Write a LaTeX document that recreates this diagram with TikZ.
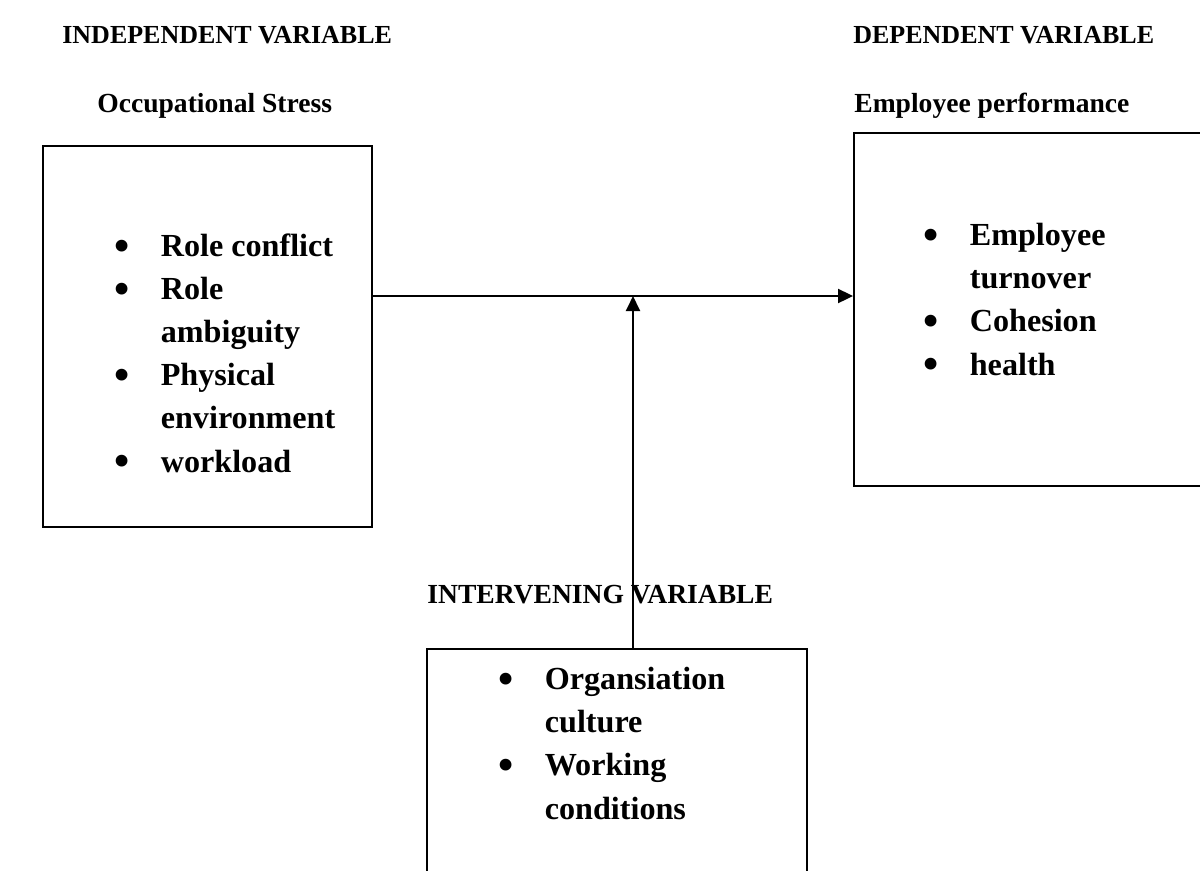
\documentclass[tikz,border=0pt]{standalone}
\usepackage{fontspec}
\usepackage{graphicx}
\setmainfont{Liberation Serif}
\usetikzlibrary{arrows.meta, positioning}

\newcommand{\bitem}{\makebox[0.92cm][l]{\raisebox{-2pt}{\scalebox{1.35}{\textbullet}}}}
\newcommand{\bcont}{\hspace*{0.92cm}}

\begin{document}
\begin{tikzpicture}[x=0.02cm, y=-0.02cm,
  frame/.style={draw, line width=1.1pt, inner sep=0},
  lbl/.style={font=\fontsize{14.8}{24.5}\selectfont\bfseries, inner sep=0, anchor=base west},
  sublbl/.style={lbl, font=\fontsize{15.7}{24.5}\selectfont\bfseries},
  lst/.style={lbl, font=\fontsize{18.3}{24.5}\selectfont\bfseries, align=left},
  arr/.style={-{Triangle[length=0.3cm, width=0.28cm]}, line width=1.1pt}]
 \useasboundingbox (0,0) rectangle (1200,870);
 % boxes
 \node[frame, minimum width=6.58cm, minimum height=7.62cm] (indep) at (207.5,336.5){};
 \node[frame, minimum width=6.96cm, minimum height=7.06cm] (dep) at (1028,309.5){};
 \node[frame, minimum width=7.6cm, minimum height=4.52cm] (interv) at (617,762){};
 % headings
 \node[lbl] (indephead) at (62,43){INDEPENDENT VARIABLE};
 \node[lbl] (dephead) at (853,43){DEPENDENT VARIABLE};
 \node[sublbl] (indepname) at (97,112){Occupational Stress};
 \node[sublbl] (depname) at (854,112){Employee performance};
 \node[sublbl] (intervhead) at (427,603){INTERVENING VARIABLE};
 % lists
 \node[lst] (indeplist) at (114.5,472){\bitem Role conflict\\ \bitem Role\\ \bcont ambiguity\\
   \bitem Physical\\ \bcont environment\\ \bitem workload};
 \node[lst] (deplist) at (923.5,375){\bitem Employee\\ \bcont turnover\\ \bitem Cohesion\\ \bitem health};
 \node[lst] (intervlist) at (498.5,819){\bitem Organsiation\\ \bcont culture\\ \bitem Working\\ \bcont conditions};
 % connectors
 \coordinate (join) at (633,296);
 \draw[arr] (join -| indep.east) -- (join -| dep.west);
 \draw[arr] (join |- interv.north) -- (join);
\end{tikzpicture}
\end{document}
